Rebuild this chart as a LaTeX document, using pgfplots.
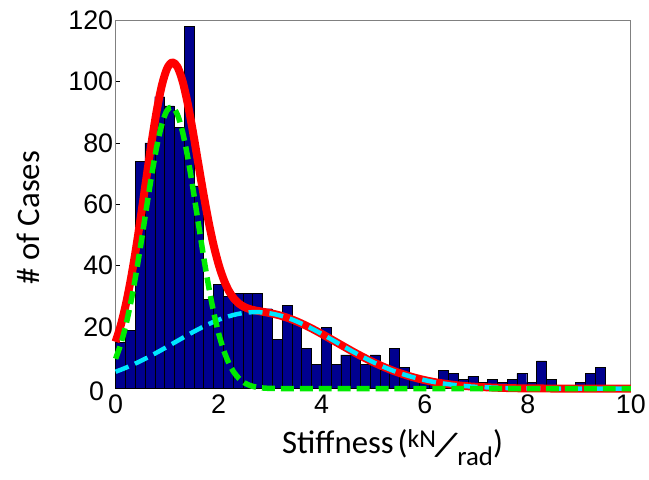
\documentclass[border=0pt]{standalone}
\usepackage{graphicx}
\usepackage{pgfplots}
\pgfplotsset{compat=1.18}
\usepackage{pgfplotstable}
\usepackage{fontspec}
\setmainfont{Carlito}
\newfontfamily\tickfont{Liberation Sans}
\newfontfamily\labelfont{Carlito}
\definecolor{barblue}{RGB}{0,0,143}
\definecolor{cyanline}{RGB}{0,230,255}
\definecolor{greenline}{RGB}{0,235,0}

\pgfplotstableread{
x y
0.095 15
0.285 19
0.475 74
0.665 80
0.855 95
1.045 92
1.235 85
1.425 118
1.615 66
1.805 29
1.995 34
2.185 30
2.375 31
2.565 31
2.755 31
2.945 26
3.135 16
3.325 27
3.515 22
3.705 13
3.895 8
4.085 20
4.275 8
4.465 11
4.655 11
4.845 8
5.035 11
5.225 6
5.415 13
5.605 7
5.795 4
5.985 3
6.175 2
6.365 6
6.555 5
6.745 3
6.935 4
7.125 2
7.315 3
7.505 2
7.695 3
7.885 5
8.075 2
8.265 9
8.455 3
8.645 0
8.835 0
9.025 2
9.215 5
9.405 7
9.595 0
9.785 0
}\bars

\pgfplotstableread{
x y
0 15.23
0.1 20.60
0.2 27.50
0.3 36.00
0.4 45.99
0.5 57.13
0.6 68.82
0.7 80.29
0.8 90.60
0.9 98.83
1.0 104.20
1.1 106.20
1.2 104.74
1.3 100.05
1.4 92.76
1.5 83.70
1.6 73.79
1.7 63.93
1.8 54.79
1.9 46.87
2.0 40.41
2.1 35.42
2.2 31.77
2.3 29.26
2.4 27.60
2.5 26.56
2.6 25.91
2.7 25.49
2.8 25.18
3.0 24.58
3.2 23.76
3.4 22.66
3.6 21.26
3.8 19.63
4.0 17.82
4.2 15.92
4.4 14.00
4.6 12.10
4.8 10.30
5.0 8.62
5.2 7.10
5.4 5.75
5.6 4.58
5.8 3.59
6.0 2.77
6.2 2.10
6.4 1.57
6.6 1.15
6.8 0.83
7.0 0.59
7.5 0.24
8.0 0.08
9.0 0.01
10 0
}\redfit

\pgfplotstableread{
x y
0 5.50
0.1 6.14
0.2 6.81
0.3 7.54
0.4 8.30
0.5 9.11
0.6 9.95
0.7 10.83
0.8 11.74
0.9 12.67
1.0 13.62
1.1 14.57
1.2 15.54
1.3 16.50
1.4 17.45
1.5 18.38
1.6 19.27
1.7 20.14
1.8 20.95
1.9 21.71
2.0 22.40
2.1 23.02
2.2 23.56
2.3 24.02
2.4 24.38
2.5 24.66
2.6 24.83
2.7 24.90
2.8 24.87
3.0 24.50
3.2 23.76
3.4 22.66
3.6 21.26
3.8 19.63
4.0 17.82
4.2 15.92
4.4 14.00
4.6 12.10
4.8 10.30
5.0 8.62
5.2 7.10
5.4 5.75
5.6 4.58
5.8 3.59
6.0 2.77
6.2 2.10
6.4 1.57
6.6 1.15
6.8 0.83
7.0 0.59
7.5 0.24
8.0 0.08
9.0 0.01
10 0
}\cyanfit

\pgfplotstableread{
x y
0 9.73
0.1 14.46
0.2 20.69
0.3 28.46
0.4 37.69
0.5 48.02
0.6 58.87
0.7 69.46
0.8 78.86
0.9 86.16
1.0 90.58
1.1 91.63
1.2 89.20
1.3 83.55
1.4 75.31
1.5 65.32
1.6 54.52
1.7 43.79
1.8 33.84
1.9 25.16
2.0 18.01
2.1 12.40
2.2 8.21
2.3 5.24
2.4 3.22
2.5 1.90
2.6 1.08
2.7 0.59
2.8 0.31
3.0 0.08
3.5 0
4 0
5 0
6 0
7 0
8 0
9 0
10 0
}\greenfit

\begin{document}
\begin{tikzpicture}
\begin{axis}[
  scale only axis,
  width=517bp, height=370bp,
  xmin=0, xmax=10, ymin=0, ymax=120,
  xtick={0,2,...,10}, ytick={20,40,...,120},
  extra y ticks={0},
  extra y tick style={yticklabel style={xshift=-9bp, yshift=-3bp}},
  xtick pos=bottom, ytick pos=left,
  tick align=inside,
  major tick length=4bp,
  tick style={black, line width=0.6bp},
  axis line style={black!50, line width=0.8bp},
  clip=false,
  /pgf/number format/assume math mode=true,
  xticklabel={\tickfont\fontsize{27}{27}\selectfont\pgfmathprintnumber{\tick}},
  yticklabel={\tickfont\fontsize{27}{27}\selectfont\pgfmathprintnumber{\tick}},
  xticklabel style={yshift=-3bp},
  yticklabel style={xshift=1bp},
  xlabel={Stiffness\hspace{4bp}(\raisebox{5.5bp}{\fontsize{26}{26}\selectfont kN}\hspace{-1bp}\raisebox{-5bp}{\fontsize{40}{40}\selectfont\rotatebox[origin=c]{-17}{/}}\hspace{-1bp}\raisebox{-11.7bp}{\fontsize{27}{27}\selectfont rad})},
  xlabel style={font=\labelfont\fontsize{33}{33}\selectfont, at={(axis description cs:0.323,0)}, anchor=base west, inner sep=0pt, yshift=-65bp},
  ylabel={\# of Cases},
  ylabel style={font=\labelfont\fontsize{33}{33}\selectfont, at={(axis description cs:-0.148,0.4635)}, anchor=base, inner sep=0pt},
]
\addplot[ybar, bar width=0.19, bar shift=0pt, fill=barblue, draw=black, line width=0.4bp] table[x=x,y=y]{\bars};
\addplot[red, line width=8bp, smooth, line join=round] table[x=x,y=y]{\redfit};
\addplot[cyanline, line width=4.5bp, smooth, dash pattern=on 14bp off 7bp] table[x=x,y=y]{\cyanfit};
\addplot[greenline, line width=5.5bp, smooth, dash pattern=on 13bp off 6bp] table[x=x,y=y]{\greenfit};
\end{axis}
\path ([xshift=-116bp,yshift=-91bp]current axis.south west) rectangle ([xshift=16bp,yshift=20bp]current axis.north east);
\end{tikzpicture}
\end{document}
